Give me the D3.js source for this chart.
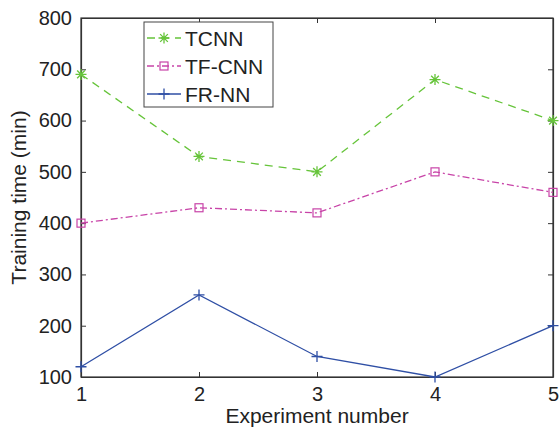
<!DOCTYPE html>
<html>
<head>
<meta charset="utf-8">
<script src="https://cdn.jsdelivr.net/npm/d3@7"></script>
<style>
  body { margin: 0; background: #fff; }
  text { font-family: "Liberation Sans", Arial, sans-serif; fill: #222; }
</style>
</head>
<body>
<svg id="chart"></svg>
<script>
// data
const experiments = [1, 2, 3, 4, 5];
const tcnn = [690, 530, 500, 680, 600];
const tfcnn = [400, 430, 420, 500, 460];
const frnn = [120, 260, 140, 100, 200];
const yTicks = [100, 200, 300, 400, 500, 600, 700, 800];

const width = 559, height = 432;
const margin = {top: 18, right: 6, bottom: 55, left: 81};
const w = width - margin.left - margin.right;
const h = height - margin.top - margin.bottom;

const svg = d3.select('#chart')
    .attr('width', width)
    .attr('height', height);

const g = svg.append('g')
    .attr('transform', `translate(${margin.left},${margin.top})`);

const x = d3.scaleLinear().domain([1, 5]).range([0, w]);
const y = d3.scaleLinear().domain([100, 800]).range([h, 0]);

// box
g.append('rect')
    .attr('width', w).attr('height', h)
    .attr('fill', 'none')
    .attr('stroke', '#333')
    .attr('stroke-width', 1.2);

const xAxis = d3.axisBottom(x).tickValues(experiments).tickFormat(d3.format('d'))
    .tickSizeInner(-5).tickSizeOuter(0).tickPadding(10);
const yAxis = d3.axisLeft(y).tickValues(yTicks)
    .tickSizeInner(-5).tickSizeOuter(0).tickPadding(9);

const xG = g.append('g').attr('transform', `translate(0,${h})`).call(xAxis);
const yG = g.append('g').call(yAxis);
// ticks on top / right
g.append('g').call(d3.axisTop(x).tickValues(experiments).tickSizeInner(-5).tickSizeOuter(0).tickFormat(''));
g.append('g').attr('transform', `translate(${w},0)`)
    .call(d3.axisRight(y).tickValues(yTicks).tickSizeInner(-5).tickSizeOuter(0).tickFormat(''));

g.selectAll('.domain').attr('stroke', '#333').attr('stroke-width', 1.2);
g.selectAll('.tick line').attr('stroke', '#333');
[xG, yG].forEach(a => a.selectAll('text').attr('font-size', 20).style('font-family', '"Liberation Sans", Arial, sans-serif').attr('fill', '#222'));

// axis titles
svg.append('text')
    .attr('x', margin.left + w / 2)
    .attr('y', 423)
    .attr('text-anchor', 'middle')
    .attr('font-size', 21)
    .text('Experiment number');

svg.append('text')
    .attr('transform', `translate(26,${margin.top + h / 2}) rotate(-90)`)
    .attr('text-anchor', 'middle')
    .attr('font-size', 21)
    .text('Training time (min)');

const series = [
    {name: 'TCNN', values: tcnn, color: '#66c43a', dash: '8,6', marker: 'star'},
    {name: 'TF-CNN', values: tfcnn, color: '#c844a8', dash: '7,3,2,3', marker: 'square'},
    {name: 'FR-NN', values: frnn, color: '#2f4fa5', dash: null, marker: 'plus'}
];

const line = d3.line().x((d, i) => x(experiments[i])).y(d => y(d));

function drawMarker(sel, type, color) {
    const s = 5.5;
    if (type === 'square') {
        sel.append('rect').attr('x', -4).attr('y', -4).attr('width', 8).attr('height', 8)
            .attr('fill', 'none').attr('stroke', color).attr('stroke-width', 1.2);
    } else if (type === 'plus') {
        sel.append('path').attr('d', `M${-s},0H${s}M0,${-s}V${s}`)
            .attr('stroke', color).attr('stroke-width', 1.3);
    } else {
        sel.append('path')
            .attr('d', `M${-s},0H${s}M0,${-s}V${s}M${-s*0.7},${-s*0.7}L${s*0.7},${s*0.7}M${-s*0.7},${s*0.7}L${s*0.7},${-s*0.7}`)
            .attr('stroke', color).attr('stroke-width', 1.3);
    }
}

series.forEach(s => {
    g.append('path')
        .datum(s.values)
        .attr('d', line)
        .attr('fill', 'none')
        .attr('stroke', s.color)
        .attr('stroke-width', 1.3)
        .attr('stroke-dasharray', s.dash);
    s.values.forEach((v, i) => {
        const m = g.append('g').attr('transform', `translate(${x(experiments[i])},${y(v)})`);
        drawMarker(m, s.marker, s.color);
    });
});

// legend
const legend = svg.append('g').attr('transform', 'translate(144,22)');
legend.append('rect')
    .attr('width', 129).attr('height', 85)
    .attr('fill', '#fff')
    .attr('stroke', '#444')
    .attr('stroke-width', 1);

series.forEach((s, i) => {
    const row = legend.append('g').attr('transform', `translate(0,${16 + i * 28})`);
    row.append('line')
        .attr('x1', 3).attr('x2', 37)
        .attr('stroke', s.color).attr('stroke-width', 1.3)
        .attr('stroke-dasharray', s.dash);
    drawMarker(row.append('g').attr('transform', 'translate(20,0)'), s.marker, s.color);
    row.append('text')
        .attr('x', 41).attr('y', 8)
        .attr('font-size', 21)
        .text(s.name);
});
</script>
</body>
</html>
